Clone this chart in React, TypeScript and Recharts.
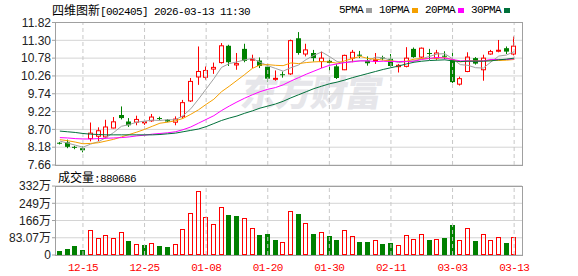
import {
  Bar,
  BarChart,
  CartesianGrid,
  ComposedChart,
  Line,
  ReferenceLine,
  XAxis,
  YAxis,
} from "recharts";

const DATES = [
  "12-10", "12-11", "12-12", "12-15", "12-16", "12-17", "12-18", "12-19", "12-22", "12-23",
  "12-24", "12-25", "12-26", "12-29", "12-30", "12-31", "01-05", "01-06", "01-07", "01-08",
  "01-09", "01-12", "01-13", "01-14", "01-15", "01-16", "01-19", "01-20", "01-21", "01-22",
  "01-23", "01-26", "01-27", "01-28", "01-29", "01-30", "02-02", "02-03", "02-04", "02-05",
  "02-06", "02-09", "02-10", "02-11", "02-12", "02-13", "02-24", "02-25", "02-26", "02-27",
  "03-02", "03-03", "03-04", "03-05", "03-06", "03-09", "03-10", "03-11", "03-12", "03-13",
];

const OPEN = [
  8.31, 8.32, 8.19, 8.15, 8.43, 8.5, 8.48, 8.74, 9.12, 8.93,
  8.91, 8.91, 8.95, 9.03, 8.98, 8.91, 9.07, 9.53, 10.23, 10.22,
  10.46, 10.65, 11.14, 10.58, 11.05, 10.72, 10.71, 10.53, 10.17, 10.31,
  10.32, 11.36, 10.9, 10.93, 10.68, 10.7, 10.54, 10.44, 10.78, 10.88,
  10.7, 10.7, 10.8, 10.76, 10.53, 10.54, 11.05, 10.81, 10.93, 10.78,
  10.85, 10.73, 10.02, 10.39, 10.78, 10.44, 10.9, 10.98, 11.07, 10.9,
];
const HIGH = [
  8.33, 8.4, 8.22, 8.2, 8.9, 8.76, 8.98, 9.06, 9.37, 9.03,
  9.1, 8.99, 9.15, 9.07, 9.0, 9.08, 9.56, 10.2, 11.12, 10.54,
  10.65, 11.22, 11.17, 10.93, 11.2, 10.88, 10.8, 10.61, 10.42, 10.39,
  11.32, 11.54, 11.2, 11.02, 10.97, 10.79, 10.6, 10.88, 11.02, 10.99,
  10.83, 10.93, 10.85, 10.9, 10.61, 11.1, 11.09, 11.09, 11.05, 11.02,
  10.98, 11.05, 10.24, 10.95, 10.81, 10.88, 11.02, 11.31, 11.12, 11.41,
];
const LOW = [
  8.26, 8.15, 8.12, 8.03, 8.35, 8.36, 8.45, 8.73, 8.99, 8.77,
  8.82, 8.83, 8.92, 8.97, 8.91, 8.82, 9.03, 9.5, 10.0, 10.15,
  10.32, 10.62, 10.55, 10.44, 10.66, 10.49, 10.49, 10.1, 10.12, 10.21,
  10.29, 10.88, 10.83, 10.68, 10.49, 10.4, 10.17, 10.43, 10.66, 10.78,
  10.56, 10.61, 10.72, 10.52, 10.36, 10.51, 10.79, 10.79, 10.73, 10.73,
  10.75, 10.05, 9.98, 10.37, 10.59, 10.12, 10.88, 10.95, 10.9, 10.86,
];
const CLOSE = [
  8.29, 8.19, 8.17, 8.09, 8.59, 8.66, 8.77, 8.92, 9.03, 8.82,
  8.99, 8.92, 9.06, 9.01, 8.93, 9.0, 9.48, 10.1, 10.39, 10.42,
  10.51, 11.14, 10.66, 10.62, 10.7, 10.75, 10.55, 10.18, 10.19, 10.29,
  11.29, 10.93, 11.02, 10.78, 10.78, 10.64, 10.2, 10.86, 10.95, 10.86,
  10.63, 10.73, 10.77, 10.55, 10.57, 10.78, 10.81, 11.07, 10.91, 10.93,
  10.83, 10.08, 10.18, 10.81, 10.62, 10.78, 10.97, 11.01, 10.97, 11.13,
];

const MA5 = [
  8.36, 8.3, 8.24, 8.18, 8.27, 8.34, 8.46, 8.61, 8.79, 8.84,
  8.91, 8.94, 8.97, 8.96, 8.98, 8.98, 9.1, 9.3, 9.58, 9.88,
  10.18, 10.51, 10.62, 10.67, 10.73, 10.77, 10.66, 10.56, 10.48, 10.4,
  10.5, 10.58, 10.74, 10.86, 10.96, 10.83, 10.68, 10.65, 10.69, 10.7,
  10.7, 10.81, 10.79, 10.71, 10.65, 10.68, 10.7, 10.76, 10.83, 10.9,
  10.91, 10.76, 10.59, 10.57, 10.5, 10.49, 10.67, 10.84, 10.87, 10.97,
];
const MA10 = [
  8.4, 8.37, 8.33, 8.28, 8.29, 8.31, 8.36, 8.41, 8.48, 8.55,
  8.62, 8.7, 8.79, 8.88, 8.91, 8.95, 9.02, 9.14, 9.27, 9.43,
  9.58, 9.8, 9.96, 10.13, 10.3, 10.48, 10.58, 10.59, 10.57, 10.56,
  10.64, 10.62, 10.65, 10.67, 10.68, 10.67, 10.63, 10.7, 10.77, 10.83,
  10.77, 10.75, 10.72, 10.7, 10.68, 10.69, 10.75, 10.77, 10.77, 10.78,
  10.8, 10.73, 10.67, 10.7, 10.7, 10.7, 10.72, 10.71, 10.72, 10.74,
];
const MA20 = [
  8.46, 8.45, 8.43, 8.42, 8.42, 8.43, 8.44, 8.45, 8.46, 8.48,
  8.51, 8.53, 8.56, 8.58, 8.6, 8.63, 8.69, 8.77, 8.88, 8.99,
  9.1, 9.25, 9.38, 9.5, 9.61, 9.71, 9.8, 9.87, 9.92, 10.0,
  10.11, 10.21, 10.31, 10.4, 10.49, 10.57, 10.61, 10.65, 10.67, 10.7,
  10.7, 10.68, 10.69, 10.68, 10.68, 10.68, 10.69, 10.74, 10.77, 10.8,
  10.78, 10.74, 10.7, 10.7, 10.69, 10.7, 10.74, 10.74, 10.74, 10.76,
];
const MA30 = [
  8.65, 8.63, 8.61, 8.58, 8.56, 8.55, 8.54, 8.54, 8.54, 8.54,
  8.54, 8.54, 8.54, 8.55, 8.57, 8.59, 8.63, 8.67, 8.71, 8.78,
  8.87, 8.96, 9.03, 9.09, 9.17, 9.24, 9.32, 9.38, 9.44, 9.52,
  9.62, 9.71, 9.8, 9.89, 9.96, 10.03, 10.08, 10.14, 10.21, 10.27,
  10.33, 10.39, 10.45, 10.5, 10.55, 10.61, 10.66, 10.69, 10.71, 10.72,
  10.73, 10.7, 10.68, 10.69, 10.69, 10.69, 10.7, 10.73, 10.75, 10.78,
];

// 成交量, 万股
const VOLUME = [
  18, 27, 42, 23, 119, 84, 94, 84, 110, 68,
  55, 47, 56, 42, 37, 52, 123, 200, 308, 181,
  148, 229, 192, 187, 176, 128, 95, 100, 71, 61,
  211, 198, 153, 100, 110, 90, 71, 118, 90, 61,
  61, 70, 52, 57, 50, 94, 79, 100, 71, 79,
  81, 144, 70, 132, 66, 103, 74, 89, 57, 88,
];
// u = 收涨(红), d = 收跌(绿)
const VOL_DIR = [
  "d", "d", "d", "d", "u", "u", "u", "u", "u", "d",
  "u", "d", "u", "d", "d", "u", "u", "u", "u", "u",
  "u", "u", "d", "d", "u", "u", "d", "d", "d", "u",
  "u", "d", "u", "d", "u", "d", "d", "u", "u", "d",
  "d", "u", "d", "d", "u", "u", "u", "u", "d", "u",
  "d", "d", "u", "u", "d", "u", "u", "u", "d", "u",
];

const PRICE_TICKS = [7.66, 8.18, 8.7, 9.22, 9.74, 10.26, 10.78, 11.3, 11.82];
const VOL_TICKS = [0, 83.07, 166, 249, 332];
const DATE_TICKS = ["12-15", "12-25", "01-08", "01-20", "01-30", "02-11", "03-03", "03-13"];

const LEGEND = [
  { name: "5PMA", color: "#a0a0a0" },
  { name: "10PMA", color: "#f5a000" },
  { name: "20PMA", color: "#ff00ff" },
  { name: "30PMA", color: "#00703a" },
];

const RED = "#ff0000";
const GREEN = "#008000";
const GRID = "#d4d4d4";
const DASH = "#c8c8c8";
const BORDER = "#a0a0a0";

const W = 578;
const PLOT_LEFT = 55;
const PLOT_RIGHT = 56;
const MAIN_TOP = 22.5;
const MAIN_H = 178;
const MAIN_BOTTOM = 13; // plot ends at y=165, extra room keeps the 7.66 label whole
const VOL_Y = 170;
const VOL_H = 106;
const VOL_TOP = 16;
const VOL_AXIS_H = 21;

const rows = DATES.map((date, i) => ({
  date,
  open: OPEN[i],
  high: HIGH[i],
  low: LOW[i],
  close: CLOSE[i],
  ma5: MA5[i],
  ma10: MA10[i],
  ma20: MA20[i],
  ma30: MA30[i],
  vol: VOLUME[i],
  up: VOL_DIR[i] === "u",
}));

const mono = {
  fontFamily: "'Liberation Mono', monospace",
  fontSize: 11,
  letterSpacing: -0.6,
};
const cjk = { fontFamily: "'Noto Sans CJK SC', sans-serif", fontSize: 12 };

function Candle(props: any) {
  const { x, y, width, height, payload } = props;
  if (x == null || !payload) return null;
  const { open, close, high, low } = payload;
  const top = Math.min(y, y + height);
  const h = Math.abs(height);
  const span = high - low;
  const py = (v: number) => (span > 0 ? top + ((high - v) / span) * h : top);
  const cx = Math.floor(x + width / 2) + 0.5;
  const bTop = py(Math.max(open, close));
  const bodyH = Math.max(py(Math.min(open, close)) - bTop, 1);
  if (close >= open) {
    return (
      <g>
        <line x1={cx} x2={cx} y1={py(high)} y2={bTop} stroke={RED} />
        <line x1={cx} x2={cx} y1={bTop + bodyH} y2={py(low)} stroke={RED} />
        <rect x={cx - 2} y={bTop} width={4} height={bodyH} fill="none" stroke={RED} />
      </g>
    );
  }
  return (
    <g>
      <line x1={cx} x2={cx} y1={py(high)} y2={py(low)} stroke={GREEN} />
      <rect x={cx - 2.5} y={bTop} width={5} height={bodyH} fill={GREEN} />
    </g>
  );
}

function VolBar(props: any) {
  const { x, y, width, height, payload } = props;
  if (x == null || !payload) return null;
  const left = Math.floor(x + width / 2) - 2;
  const top = Math.round(y);
  const bottom = Math.round(y + height);
  if (payload.up) {
    return (
      <rect
        x={left + 0.5}
        y={top + 0.5}
        width={4}
        height={Math.max(bottom - top - 1, 0)}
        fill="none"
        stroke={RED}
      />
    );
  }
  return <rect x={left} y={top} width={5} height={bottom - top} fill={GREEN} />;
}

const frame = (top: number, height: number) => ({
  position: "absolute" as const,
  left: PLOT_LEFT,
  top,
  width: W - PLOT_LEFT - PLOT_RIGHT + 1,
  height,
  border: `1px solid ${BORDER}`,
  boxSizing: "border-box" as const,
  pointerEvents: "none" as const,
});

export default function App() {
  const yTick = { fontSize: 12, fill: "#222", fontFamily: "'Liberation Sans', 'Noto Sans CJK SC', sans-serif" };
  return (
    <div
      style={{
        position: "relative",
        width: W,
        height: 276,
        background: "#fff",
        overflow: "hidden",
        fontFamily: "'Liberation Sans', sans-serif",
      }}
    >
      <style>{"body{margin:0}"}</style>

      <div
        style={{
          position: "absolute",
          left: 242,
          top: 64,
          fontFamily: "'Noto Sans CJK SC', sans-serif",
          fontSize: 36,
          fontWeight: 900,
          color: "#e6e6ea",
          letterSpacing: -1,
          transform: "skewX(-10deg)",
          whiteSpace: "nowrap",
        }}
      >
        东方财富
      </div>

      <div style={{ position: "absolute", left: 52, top: 2, whiteSpace: "nowrap", color: "#000", lineHeight: "16px" }}>
        <span style={cjk}>四维图新</span>
        <span style={mono}>[002405] 2026-03-13 11:30</span>
      </div>

      <div style={{ position: "absolute", left: 339, top: 2, display: "flex", alignItems: "center", lineHeight: "16px" }}>
        {LEGEND.map((l) => (
          <div key={l.name} style={{ display: "flex", alignItems: "center", marginRight: 7 }}>
            <span style={{ ...mono, color: "#000" }}>{l.name}</span>
            <span style={{ display: "inline-block", width: 6, height: 5, background: l.color, marginLeft: 3 }} />
          </div>
        ))}
      </div>

      <div style={{ position: "absolute", left: 0, top: 0 }}>
        <ComposedChart
          width={W}
          height={MAIN_H}
          data={rows}
          margin={{ top: MAIN_TOP, right: PLOT_RIGHT, bottom: MAIN_BOTTOM, left: 0 }}
        >
          <CartesianGrid vertical={false} stroke={GRID} />
          <XAxis dataKey="date" hide padding={{ left: 1, right: 4 }} />
          <YAxis
            width={PLOT_LEFT}
            domain={[7.66, 11.82]}
            ticks={PRICE_TICKS}
            interval={0}
            allowDataOverflow
            axisLine={false}
            tickSize={3}
            tickMargin={1}
            tickLine={{ stroke: BORDER }}
            tick={yTick}
            tickFormatter={(v: number) => v.toFixed(2)}
          />
          {DATE_TICKS.map((d) => (
            <ReferenceLine key={d} x={d} stroke={DASH} strokeDasharray="4 3" />
          ))}
          <Bar
            dataKey={(d: any) => [d.low, d.high]}
            barSize={5}
            shape={Candle}
            isAnimationActive={false}
          />
          <Line dataKey="ma5" stroke={LEGEND[0].color} dot={false} activeDot={false} isAnimationActive={false} />
          <Line dataKey="ma10" stroke={LEGEND[1].color} dot={false} activeDot={false} isAnimationActive={false} />
          <Line dataKey="ma20" stroke={LEGEND[2].color} dot={false} activeDot={false} isAnimationActive={false} />
          <Line dataKey="ma30" stroke={LEGEND[3].color} dot={false} activeDot={false} isAnimationActive={false} />
        </ComposedChart>
      </div>
      <div style={frame(22, MAIN_H - MAIN_BOTTOM - 22 + 1)} />

      <div style={{ position: "absolute", left: 58, top: VOL_Y, whiteSpace: "nowrap", lineHeight: "14px", color: "#000" }}>
        <span style={cjk}>成交量</span>
        <span style={mono}>:880686</span>
      </div>

      <div style={{ position: "absolute", left: 0, top: VOL_Y }}>
        <BarChart
          width={W}
          height={VOL_H}
          data={rows}
          margin={{ top: VOL_TOP, right: PLOT_RIGHT, bottom: 0, left: 0 }}
        >
          <CartesianGrid vertical={false} stroke={GRID} />
          <XAxis
            dataKey="date"
            ticks={DATE_TICKS}
            interval={0}
            height={VOL_AXIS_H}
            axisLine={false}
            tickLine={false}
            padding={{ left: 1, right: 4 }}
            tick={{ ...mono, fill: RED }}
          />
          <YAxis
            width={PLOT_LEFT}
            domain={[0, 332.28]}
            ticks={VOL_TICKS}
            interval={0}
            allowDataOverflow
            axisLine={false}
            tickSize={3}
            tickMargin={1}
            tickLine={{ stroke: BORDER }}
            tick={yTick}
            tickFormatter={(v: number) => (v === 0 ? "0" : `${v}万`)}
          />
          {DATE_TICKS.map((d) => (
            <ReferenceLine key={d} x={d} stroke={DASH} strokeDasharray="4 3" />
          ))}
          <Bar dataKey="vol" barSize={5} shape={VolBar} isAnimationActive={false} />
        </BarChart>
      </div>
      <div style={frame(VOL_Y + VOL_TOP, VOL_H - VOL_TOP - VOL_AXIS_H + 1)} />
    </div>
  );
}
